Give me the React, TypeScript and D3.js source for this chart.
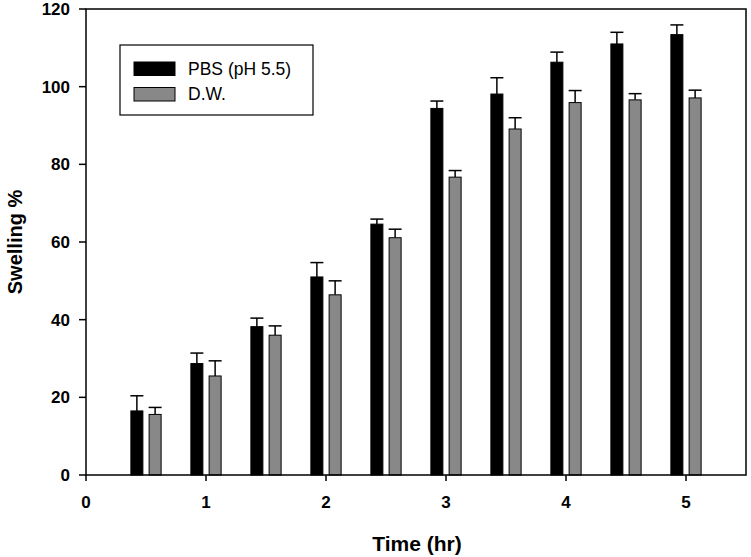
import React from "react";
import * as d3 from "d3";

const times = [0.5, 1, 1.5, 2, 2.5, 3, 3.5, 4, 4.5, 5];
const pbsMean = [16.5, 28.7, 38.2, 51.0, 64.6, 94.4, 98.1, 106.3, 111.0, 113.4];
const pbsErr = [3.9, 2.7, 2.2, 3.7, 1.3, 1.9, 4.2, 2.6, 3.0, 2.5];
const dwMean = [15.6, 25.5, 36.0, 46.4, 61.1, 76.7, 89.1, 95.9, 96.6, 97.1];
const dwErr = [1.8, 3.9, 2.4, 3.6, 2.2, 1.7, 2.9, 3.1, 1.6, 2.0];
const xTicks = [0, 1, 2, 3, 4, 5];
const yTicks = [0, 20, 40, 60, 80, 100, 120];
const seriesNames = ["PBS (pH 5.5)", "D.W."];

const W = 751, H = 557;
const m = { left: 86, right: 5, top: 9, bottom: 82 };

export default function App() {
  const x = d3.scaleLinear().domain([0, 5.5]).range([m.left, W - m.right]);
  const y = d3.scaleLinear().domain([0, 120]).range([H - m.bottom, m.top]);
  const bw = x(0.1) - x(0);
  const off = x(0.076) - x(0);
  const font = "'Liberation Sans', Arial, sans-serif";
  const series = [
    { mean: pbsMean, err: pbsErr, fill: "#000", dx: -off },
    { mean: dwMean, err: dwErr, fill: "#888888", dx: off },
  ];
  const capW = bw + 1;
  return (
    <svg width={W} height={H} style={{ position: "absolute", left: 0, top: 0 }}>
      <rect width={W} height={H} fill="#fff" />
      {series.map((s, si) => (
        <g key={si}>
          {times.map((t, i) => {
            const cx = x(t) + s.dx;
            const yt = y(s.mean[i]);
            const ye = y(s.mean[i] + s.err[i]);
            return (
              <g key={i}>
                <line x1={cx} x2={cx} y1={yt} y2={ye} stroke="#000" strokeWidth={1.5} />
                <line x1={cx - capW / 2} x2={cx + capW / 2} y1={ye} y2={ye} stroke="#000" strokeWidth={1.5} />
                <rect x={cx - bw / 2} y={yt} width={bw} height={y(0) - yt} fill={s.fill} stroke="#000" strokeWidth={1} />
              </g>
            );
          })}
        </g>
      ))}
      <rect x={m.left} y={m.top} width={W - m.right - m.left} height={y(0) - m.top} fill="none" stroke="#000" strokeWidth={1.5} />
      {yTicks.map((v) => (
        <g key={v}>
          <line x1={m.left - 7} x2={m.left} y1={y(v)} y2={y(v)} stroke="#000" strokeWidth={1.5} />
          <text x={m.left - 16} y={y(v)} dy="0.36em" textAnchor="end" fontFamily={font} fontWeight="bold" fontSize={17}>{v}</text>
        </g>
      ))}
      {xTicks.map((v) => (
        <g key={v}>
          <line x1={x(v)} x2={x(v)} y1={y(0)} y2={y(0) + 6} stroke="#000" strokeWidth={1.5} />
          <text x={x(v)} y={y(0) + 33} textAnchor="middle" fontFamily={font} fontWeight="bold" fontSize={17}>{v}</text>
        </g>
      ))}
      <text x={417} y={551} textAnchor="middle" fontFamily={font} fontWeight="bold" fontSize={21}>Time (hr)</text>
      <text transform={`translate(22, ${(m.top + y(0)) / 2}) rotate(-90)`} textAnchor="middle" fontFamily={font} fontWeight="bold" fontSize={20}>Swelling %</text>
      <g>
        <rect x={120} y={45} width={193} height={70} fill="#fff" stroke="#000" strokeWidth={1.2} />
        {seriesNames.map((n, i) => (
          <g key={n}>
            <rect x={134} y={62 + i * 25.5} width={41} height={13.5} fill={series[i].fill} stroke="#000" strokeWidth={1} />
            <text x={188} y={74.5 + i * 25.5} fontFamily={font} fontSize={17.5}>{n}</text>
          </g>
        ))}
      </g>
    </svg>
  );
}
